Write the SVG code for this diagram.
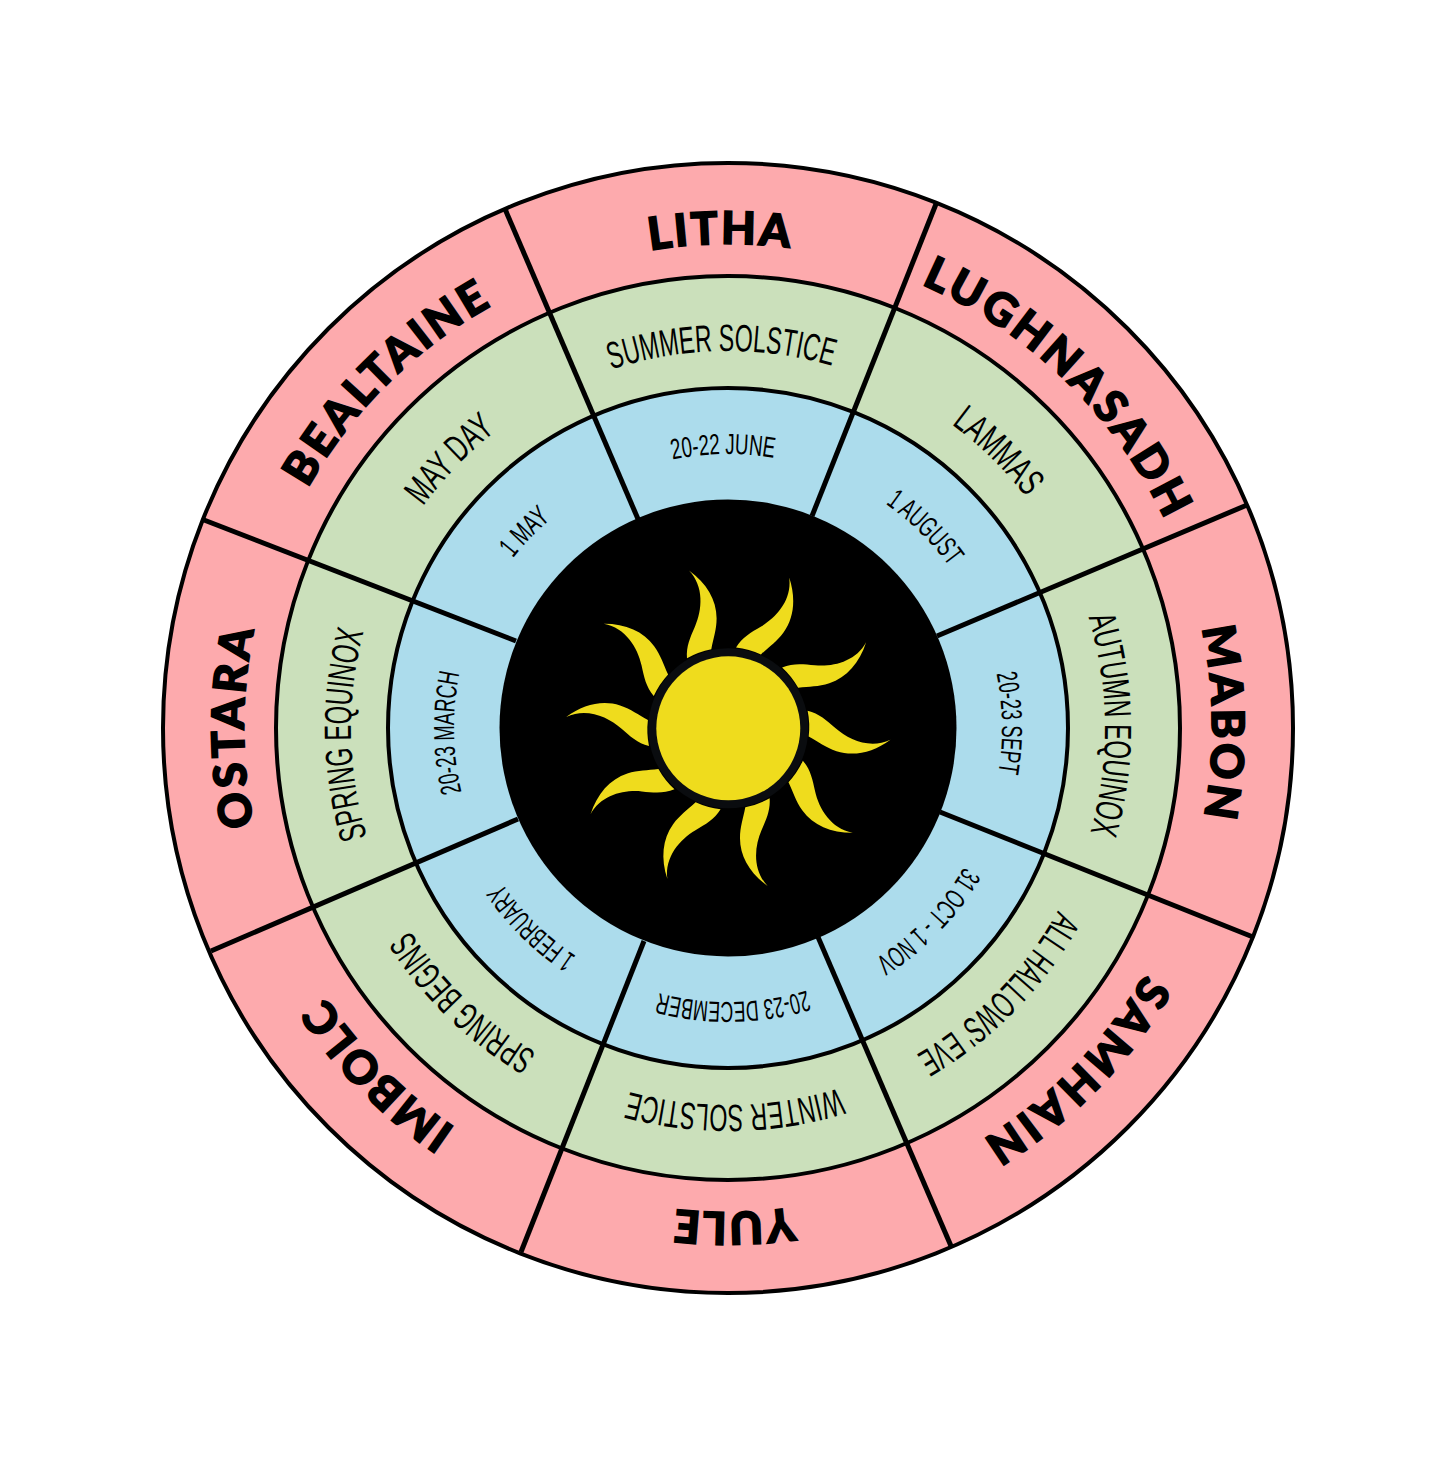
<svg xmlns="http://www.w3.org/2000/svg" xmlns:xlink="http://www.w3.org/1999/xlink" width="1456" height="1457" viewBox="0 0 1456 1457">
<style>
.ring{stroke:#000;stroke-width:4}
.div{stroke:#000;stroke-width:5;fill:none;stroke-linecap:butt}
text{fill:#000}
.o{font-family:"Lato","Liberation Sans",sans-serif;font-weight:900;font-size:45px;text-anchor:middle;stroke:#000;stroke-width:1.6px}
.m{font-family:"Liberation Sans Narrow","Liberation Sans",sans-serif;font-size:38px;text-anchor:middle}
.i{font-family:"Liberation Sans Narrow","Liberation Sans",sans-serif;font-size:29px;text-anchor:middle}
</style>
<defs>
<path id="ro" d="M728 1212A484 484 0 0 1 728 244A484 484 0 0 1 728 1212"/>
<path id="rm" d="M728 1105A377 377 0 0 1 728 351A377 377 0 0 1 728 1105"/>
<path id="ri" d="M728 1002A274 274 0 0 1 728 454A274 274 0 0 1 728 1002"/>
<path id="ray" fill="#efdc1d" d="M-41.3 -70C-42.3 -81.7 -38 -91 -33.3 -101.7C-26 -118.3 -24 -141.7 -39.3 -157.7C-21.7 -145 -11.7 -128.3 -11.7 -110C-11.7 -98.3 -15 -90 -17 -79A81 81 0 0 0 -41.3 -70Z"/>
</defs>
<rect width="1456" height="1457" fill="#fff"/>
<g id="rings">
<circle class="ring" cx="728" cy="728" r="565" fill="#fdaaad"/>
<circle class="ring" cx="728" cy="728" r="452" fill="#cbe0bb"/>
<circle class="ring" cx="728" cy="728" r="340" fill="#acdcec"/>
<circle cx="728" cy="728" r="228.5" fill="#000"/>
</g>
<g id="connectors">
<line class="div" x1="638" y1="519" x2="505" y2="209"/>
<line class="div" x1="812" y1="516" x2="936" y2="204"/>
<line class="div" x1="937" y1="636" x2="1247" y2="505"/>
<line class="div" x1="940" y1="812" x2="1253" y2="937"/>
<line class="div" x1="818" y1="937" x2="951" y2="1246"/>
<line class="div" x1="644" y1="941" x2="521" y2="1252"/>
<line class="div" x1="518" y1="819" x2="211" y2="951"/>
<line class="div" x1="516" y1="641" x2="204" y2="520"/>
</g>
<g id="sun" transform="translate(728.3 728.3)">
<circle r="80" fill="#0a0c0f"/>
<circle r="72" fill="#efdc1d"/>
<use href="#ray"/>
<use href="#ray" transform="rotate(36)"/>
<use href="#ray" transform="rotate(72)"/>
<use href="#ray" transform="rotate(108)"/>
<use href="#ray" transform="rotate(144)"/>
<use href="#ray" transform="rotate(180)"/>
<use href="#ray" transform="rotate(216)"/>
<use href="#ray" transform="rotate(252)"/>
<use href="#ray" transform="rotate(288)"/>
<use href="#ray" transform="rotate(324)"/>
</g>
<g id="litha"><text class="o" transform="rotate(-1 728 728)"><textPath href="#ro" startOffset="50%" textLength="140">LITHA</textPath></text>
<text class="m" transform="rotate(-1 728 728)"><textPath href="#rm" startOffset="50%" textLength="224" lengthAdjust="spacingAndGlyphs">SUMMER SOLSTICE</textPath></text>
<text class="i" transform="rotate(-1 728 728)"><textPath href="#ri" startOffset="50%" textLength="102" lengthAdjust="spacingAndGlyphs">20-22 JUNE</textPath></text></g>
<g id="lughnasadh"><text class="o" transform="rotate(44 728 728)"><textPath href="#ro" startOffset="50%" textLength="346">LUGHNASADH</textPath></text>
<text class="m" transform="rotate(44.3 728 728)"><textPath href="#rm" startOffset="50%" textLength="105" lengthAdjust="spacingAndGlyphs">LAMMAS</textPath></text>
<text class="i" transform="rotate(44.5 728 728)"><textPath href="#ri" startOffset="50%" textLength="90" lengthAdjust="spacingAndGlyphs">1 AUGUST</textPath></text></g>
<g id="mabon"><text class="o" transform="rotate(89.3 728 728)"><textPath href="#ro" startOffset="50%" textLength="190">MABON</textPath></text>
<text class="m" transform="rotate(89.5 728 728)"><textPath href="#rm" startOffset="50%" textLength="218" lengthAdjust="spacingAndGlyphs">AUTUMN EQUINOX</textPath></text>
<text class="i" transform="rotate(89 728 728)"><textPath href="#ri" startOffset="50%" textLength="100" lengthAdjust="spacingAndGlyphs">20-23 SEPT</textPath></text></g>
<g id="samhain"><text class="o" transform="rotate(134.4 728 728)"><textPath href="#ro" startOffset="50%" textLength="234">SAMHAIN</textPath></text>
<text class="m" transform="rotate(134.5 728 728)"><textPath href="#rm" startOffset="50%" textLength="205" lengthAdjust="spacingAndGlyphs">ALL HALLOWS' EVE</textPath></text>
<text class="i" transform="rotate(134 728 728)"><textPath href="#ri" startOffset="50%" textLength="130" lengthAdjust="spacingAndGlyphs">31 OCT - 1 NOV</textPath></text></g>
<g id="yule"><text class="o" transform="rotate(179.2 728 728)"><textPath href="#ro" startOffset="50%" textLength="118">YULE</textPath></text>
<text class="m" transform="rotate(179 728 728)"><textPath href="#rm" startOffset="50%" textLength="213" lengthAdjust="spacingAndGlyphs">WINTER SOLSTICE</textPath></text>
<text class="i" transform="rotate(179 728 728)"><textPath href="#ri" startOffset="50%" textLength="150" lengthAdjust="spacingAndGlyphs">20-23 DECEMBER</textPath></text></g>
<g id="imbolc"><text class="o" transform="rotate(225.2 728 728)"><textPath href="#ro" startOffset="50%" textLength="185">IMBOLC</textPath></text>
<text class="m" transform="rotate(224 728 728)"><textPath href="#rm" startOffset="50%" textLength="178" lengthAdjust="spacingAndGlyphs">SPRING BEGINS</textPath></text>
<text class="i" transform="rotate(224.6 728 728)"><textPath href="#ri" startOffset="50%" textLength="105" lengthAdjust="spacingAndGlyphs">1 FEBRUARY</textPath></text></g>
<g id="ostara"><text class="o" transform="rotate(270 728 728)"><textPath href="#ro" startOffset="50%" textLength="197">OSTARA</textPath></text>
<text class="m" transform="rotate(269 728 728)"><textPath href="#rm" startOffset="50%" textLength="208" lengthAdjust="spacingAndGlyphs">SPRING EQUINOX</textPath></text>
<text class="i" transform="rotate(269 728 728)"><textPath href="#ri" startOffset="50%" textLength="120" lengthAdjust="spacingAndGlyphs">20-23 MARCH</textPath></text></g>
<g id="bealtaine"><text class="o" transform="rotate(315.2 728 728)"><textPath href="#ro" startOffset="50%" textLength="262">BEALTAINE</textPath></text>
<text class="m" transform="rotate(314 728 728)"><textPath href="#rm" startOffset="50%" textLength="105" lengthAdjust="spacingAndGlyphs">MAY DAY</textPath></text>
<text class="i" transform="rotate(314 728 728)"><textPath href="#ri" startOffset="50%" textLength="55" lengthAdjust="spacingAndGlyphs">1 MAY</textPath></text></g>
</svg>
